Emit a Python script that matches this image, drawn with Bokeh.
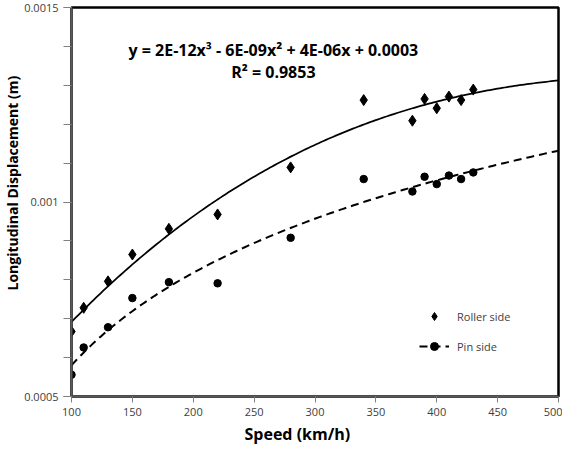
import numpy as np
from bokeh.plotting import figure
from bokeh.models import Range1d, FixedTicker, Label, Legend, LegendItem, Title
from bokeh.embed import file_html
from bokeh.resources import INLINE

# ---- data ----
speed_roller = [100, 110, 130, 150, 180, 220, 280, 340, 380, 390, 400, 410, 420, 430]
disp_roller = [0.000667, 0.000728, 0.000796, 0.000865, 0.000931, 0.000968, 0.001089,
               0.001262, 0.001209, 0.001265, 0.001241, 0.001271, 0.001262, 0.001289]
speed_pin = [100, 110, 130, 150, 180, 220, 280, 340, 380, 390, 400, 410, 420, 430]
disp_pin = [0.000556, 0.000626, 0.000678, 0.000753, 0.000794, 0.000791, 0.000908,
            0.001059, 0.001027, 0.001065, 0.001046, 0.001068, 0.001059, 0.001076]
x_ticks = [100, 150, 200, 250, 300, 350, 400, 450, 500]
y_ticks = [0.0005, 0.001, 0.0015]
y_tick_labels = ["0.0005", "0.001", "0.0015"]
x_title = "Speed  (km/h)"
y_title = "Longitudinal Displacement (m)"
equation_text = "y = 2E-12x\u00b3 - 6E-09x\u00b2 + 4E-06x + 0.0003"
r2_text = "R\u00b2 = 0.9853"

# trendlines computed from the data
xs = np.linspace(100, 500, 200)
c_roll = np.polyfit(speed_roller, disp_roller, 3)
fit_roll = np.polyval(c_roll, xs)
c_pin = np.polyfit(np.log(speed_pin), disp_pin, 1)
fit_pin = np.polyval(c_pin, np.log(xs))

p = figure(width=562, height=448, output_backend="svg", toolbar_location=None,
           x_range=Range1d(100, 500), y_range=Range1d(0.0005, 0.0015),
           min_border_left=67, min_border_right=4, min_border_top=7, min_border_bottom=52)
p.xgrid.visible = False
p.ygrid.visible = False
p.outline_line_color = "black"
p.outline_line_width = 2.5
p.background_fill_color = "white"
p.border_fill_color = "white"

tick_font = "Open Sans"
for ax in (p.xaxis[0], p.yaxis[0]):
    ax.axis_line_color = "#595959"
    ax.axis_line_width = 2
    ax.major_tick_line_color = "#808080"
    ax.minor_tick_line_color = "#808080"
    ax.major_tick_in = 0
    ax.minor_tick_in = 0
    ax.major_label_text_font = tick_font
    ax.major_label_text_font_size = "11px"
    ax.major_label_text_color = "#404040"

p.xaxis.ticker = FixedTicker(ticks=x_ticks, minor_ticks=[])
p.xaxis.major_tick_out = 6
p.xaxis.major_label_standoff = 5

p.yaxis.ticker = FixedTicker(ticks=y_ticks,
                             minor_ticks=list(np.round(np.arange(0.0005, 0.00151, 0.0001), 6)))
p.yaxis.major_label_overrides = {t: s for t, s in zip(y_ticks, y_tick_labels)}
p.yaxis.major_tick_out = 8
p.yaxis.minor_tick_out = 8
p.yaxis.major_label_standoff = 5

# axis titles (placed off-centre, as in the original)
p.add_layout(Title(text=x_title, align="left", offset=173, standoff=4,
                   text_font="Open Sans", text_font_style="bold",
                   text_font_size="16px", text_color="black"), "below")
p.add_layout(Title(text=y_title, align="left", offset=106, standoff=0,
                   text_font="Open Sans", text_font_style="bold",
                   text_font_size="14px", text_color="black"), "left")

l_roll = p.line(xs, fit_roll, line_color="black", line_width=1.75)
l_pin = p.line(xs, fit_pin, line_color="black", line_width=2, line_dash="8 5")
s_roll = p.scatter(speed_roller, disp_roller, marker="diamond", size=11, color="black")
s_pin = p.scatter(speed_pin, disp_pin, marker="circle", size=7.5, color="black")

p.add_layout(Label(x=265.8, y=0.001392, text=equation_text, text_align="center",
                   text_baseline="middle", text_font="Open Sans", text_font_style="bold",
                   text_font_size="16px", text_color="black"))
p.add_layout(Label(x=265.8, y=0.001335, text=r2_text, text_align="center",
                   text_baseline="middle", text_font="Open Sans", text_font_style="bold",
                   text_font_size="16px", text_color="black"))

legend = Legend(items=[LegendItem(label="Roller side", renderers=[s_roll]),
                       LegendItem(label="Pin side", renderers=[l_pin, s_pin])],
                location=(348, 40), padding=0, margin=0, spacing=10,
                glyph_width=30, glyph_height=20, label_standoff=8,
                label_text_font="Open Sans", label_text_font_size="11px",
                label_text_color="#404040", border_line_alpha=0,
                background_fill_alpha=0)
p.add_layout(legend)

open("out.html", "w").write(file_html(p, INLINE))
